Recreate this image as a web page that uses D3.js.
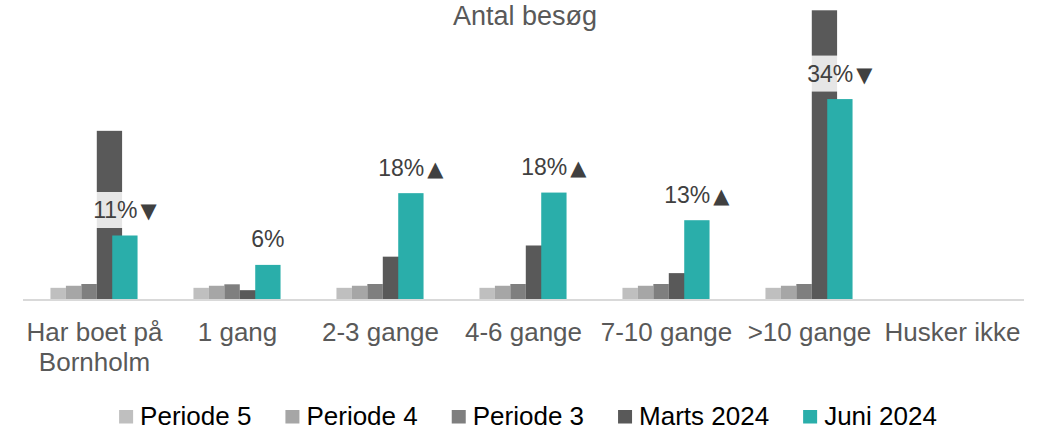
<!DOCTYPE html>
<html>
<head>
<meta charset="utf-8">
<script src="https://cdn.jsdelivr.net/npm/d3@7"></script>
<style>
  body { margin: 0; background: #fff; }
  svg { display: block; font-family: "Liberation Sans", Arial, sans-serif; }
</style>
</head>
<body>
<svg id="chart" width="1051" height="430"></svg>
<script>
// data (percent)
var categories = ["Har boet på\nBornholm", "1 gang", "2-3 gange", "4-6 gange", "7-10 gange", ">10 gange", "Husker ikke"];
var periode5 = [1.9, 1.9, 1.9, 1.9, 1.9, 1.9, null];
var periode4 = [2.25, 2.25, 2.25, 2.25, 2.25, 2.25, null];
var periode3 = [2.55, 2.5, 2.55, 2.55, 2.55, 2.55, null];
var marts2024 = [28.6, 1.5, 7.2, 9.1, 4.4, 49.1, null];
var juni2024 = [10.8, 5.8, 18.0, 18.1, 13.4, 34.0, null];
var juniLabels = ["11%", "6%", "18%", "18%", "13%", "34%", ""];
var juniTrend = ["▼", "", "▲", "▲", "▲", "▼", ""];
var seriesNames = ["Periode 5", "Periode 4", "Periode 3", "Marts 2024", "Juni 2024"];
var seriesColors = ["#bfbfbf", "#a6a6a6", "#7f7f7f", "#595959", "#2aaeaa"];

var svg = d3.select('#chart');
var baseY = 299;

var x = d3.scaleBand().domain(categories).range([23, 1024]).padding(0);
var y = d3.scaleLinear().domain([0, 50]).range([baseY, baseY - 50 * 5.88]);
var bw = x.bandwidth();

// small series sit side by side, the last two overlap
var pBand = d3.scaleBand().domain([0, 1, 2]).range([0.192 * bw, 0.516 * bw]);
var bigW = 0.177 * bw;
var bigStart = [0.516 * bw, 0.624 * bw];

// title
svg.append('text')
   .attr('x', 525).attr('y', 25)
   .attr('text-anchor', 'middle')
   .style('font-size', '27px')
   .style('fill', '#595959')
   .text('Antal besøg');

var bars = svg.append('g');

[periode5, periode4, periode3].forEach(function(vals, i) {
	bars.selectAll('.p' + i)
		.data(categories.map(function(c, j) { return { c: c, v: vals[j] }; }).filter(function(d) { return d.v != null; }))
		.enter().append('rect')
		.attr('class', 'p' + i)
		.attr('x', function(d) { return x(d.c) + pBand(i); })
		.attr('width', pBand.bandwidth())
		.attr('y', function(d) { return y(d.v); })
		.attr('height', function(d) { return baseY - y(d.v); })
		.style('fill', seriesColors[i]);
});

[marts2024, juni2024].forEach(function(vals, i) {
	bars.selectAll('.b' + i)
		.data(categories.map(function(c, j) { return { c: c, v: vals[j] }; }).filter(function(d) { return d.v != null; }))
		.enter().append('rect')
		.attr('class', 'b' + i)
		.attr('x', function(d) { return x(d.c) + bigStart[i]; })
		.attr('width', bigW)
		.attr('y', function(d) { return y(d.v); })
		.attr('height', function(d) { return baseY - y(d.v); })
		.style('fill', seriesColors[3 + i]);
});

// axis line
svg.append('line')
   .attr('x1', x.range()[0]).attr('x2', x.range()[1])
   .attr('y1', baseY + 1).attr('y2', baseY + 1)
   .style('stroke', '#d9d9d9').style('stroke-width', 2);

// data labels on juni series
var labels = svg.append('g');
categories.forEach(function(c, j) {
	if (!juniLabels[j]) return;
	var cx = x(c) + bigStart[1] + bigW / 2;
	var ty = y(juni2024[j]) - 17.5;
	var g = labels.append('g');
	var bg = g.append('rect');
	var t = g.append('text')
			 .attr('x', cx).attr('y', ty)
			 .attr('text-anchor', 'middle')
			 .style('font-size', '23px')
			 .style('fill', '#404040');
	t.append('tspan').text(juniLabels[j]);
	if (juniTrend[j]) t.append('tspan').attr('dx', 3)
					   .style('font-family', '"DejaVu Sans"').style('font-size', '21px')
					   .text(juniTrend[j]);
	var bb = t.node().getBBox();
	bg.attr('x', bb.x - 4).attr('width', bb.width + 8)
	  .attr('y', ty - 26).attr('height', 36)
	  .style('fill', '#fff').style('fill-opacity', 0.85);
});

// category labels
var xl = svg.append('g');
categories.forEach(function(c) {
	var t = xl.append('text')
			  .attr('x', x(c) + bw / 2).attr('y', 341)
			  .attr('text-anchor', 'middle')
			  .style('font-size', '26px')
			  .style('fill', '#595959');
	c.split('\n').forEach(function(line, k) {
		t.append('tspan').attr('x', x(c) + bw / 2).attr('dy', k ? 29.5 : 0).text(line);
	});
});

// legend
var legend = svg.append('g');
var lx = 0;
seriesNames.forEach(function(name, i) {
	var it = legend.append('g').attr('transform', 'translate(' + lx + ',0)');
	it.append('rect').attr('x', 0).attr('y', 410).attr('width', 14).attr('height', 13.5).style('fill', seriesColors[i]);
	var t = it.append('text').attr('x', 21).attr('y', 425)
			  .style('font-size', '26px').style('fill', '#000').text(name);
	lx += 21 + t.node().getComputedTextLength() + 34;
});
var legendW = lx - 34;
legend.attr('transform', 'translate(' + (528 - legendW / 2) + ',0)');
</script>
</body>
</html>
